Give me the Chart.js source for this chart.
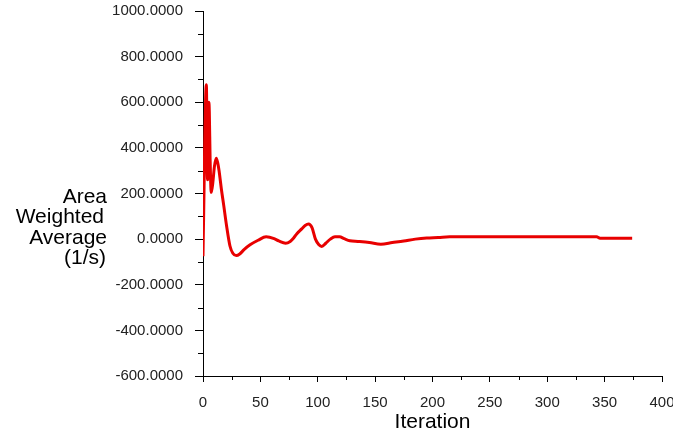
<!DOCTYPE html>
<html>
<head>
<meta charset="utf-8">
<script src="https://cdn.jsdelivr.net/npm/chart.js@4.4.0/dist/chart.umd.min.js"></script>
<style>
  html, body { margin: 0; padding: 0; background: #fff; }
  #wrap { width: 673px; height: 444px; position: relative; }
</style>
</head>
<body>
<div id="wrap"><canvas id="myChart"></canvas></div>
<script>
  // iteration history of the monitored quantity
  const iterations = [
    0, 0.7, 1.5, 2.3, 2.9, 3.3, 3.7, 4.1, 4.6, 5.1,
    5.5, 6.2, 7.2, 8.5, 10, 11.6, 13, 14, 16, 18,
    20.5, 23.5, 26, 29, 32, 36, 41, 48, 55, 62,
    66, 72, 76, 79, 82, 86, 89, 92, 95, 98,
    101, 103.5, 107, 111, 115, 119, 123, 128, 135, 145,
    155, 165, 175, 185, 195, 205, 215, 250, 300, 343,
    346, 360, 374
  ];
  const values = [
    -75, 150, 420, 620, 677, 560, 300, 260, 450, 600,
    560, 350, 205, 245, 320, 355, 330, 300, 220, 150,
    60, -30, -62, -72, -65, -45, -25, -5, 10, 2,
    -8, -18, -10, 5, 25, 45, 60, 66, 50, 0,
    -25, -32, -18, 0, 10, 10, 2, -7, -10, -15,
    -22, -15, -8, 0, 5, 7, 10, 10, 10, 10,
    4, 4, 4
  ];

  const yTitle = ['Area', 'Weighted', 'Average', '(1/s)'];
  const yTitleRight = [107, 104, 107, 106];
  const xTitle = 'Iteration';

  const fontFamily = "'Liberation Sans', Arial, Helvetica, sans-serif";

  // minor ticks, the horizontal y title and the short axis overrun
  const extras = {
    id: 'extras',
    afterDraw(chart) {
      const ctx = chart.ctx;
      const xs = chart.scales.x;
      const ys = chart.scales.y;
      const area = chart.chartArea;
      ctx.save();
      ctx.strokeStyle = '#000';
      ctx.lineWidth = 1;
      ctx.beginPath();
      for (let v = -500; v < 1000; v += 200) {
        const py = Math.round(ys.getPixelForValue(v)) + 0.5;
        ctx.moveTo(area.left - 5, py);
        ctx.lineTo(area.left, py);
      }
      for (let v = 25; v < 400; v += 50) {
        const px = Math.round(xs.getPixelForValue(v)) + 0.5;
        ctx.moveTo(px, area.bottom);
        ctx.lineTo(px, area.bottom + 4);
      }
      const lx = Math.round(area.left) + 0.5;
      ctx.moveTo(lx, area.bottom);
      ctx.lineTo(lx, area.bottom + 6);
      ctx.stroke();

      ctx.fillStyle = '#000';
      ctx.font = '21px ' + fontFamily;
      ctx.textAlign = 'right';
      ctx.textBaseline = 'middle';
      yTitle.forEach((t, i) => ctx.fillText(t, yTitleRight[i], 197 + i * 20.5));
      ctx.restore();
    }
  };

  const data = {
    datasets: [{
      label: 'Area Weighted Average',
      data: iterations.map((x, i) => ({ x: x, y: values[i] })),
      borderColor: 'rgb(232, 0, 0)',
      backgroundColor: 'rgb(232, 0, 0)',
      borderWidth: 3,
      pointRadius: 0,
      cubicInterpolationMode: 'monotone'
    }]
  };

  const config = {
    type: 'line',
    data: data,
    options: {
      responsive: true,
      maintainAspectRatio: false,
      animation: false,
      layout: { padding: { left: 0, right: 11, top: 11, bottom: 0 } },
      plugins: { legend: { display: false }, tooltip: { enabled: false } },
      scales: {
        x: {
          type: 'linear',
          min: 0,
          max: 400,
          afterFit(scale) { scale.height = 68; scale.paddingRight = 0; scale.paddingLeft = 0; },
          border: { display: true, color: '#000', width: 1 },
          grid: { display: true, drawOnChartArea: false, drawTicks: true, tickLength: 6, color: '#000' },
          ticks: {
            stepSize: 50,
            autoSkip: false,
            maxRotation: 0,
            padding: 12,
            color: '#222',
            font: { family: fontFamily, size: 15 },
            callback: v => String(v)
          },
          title: {
            display: true,
            text: xTitle,
            color: '#000',
            font: { family: fontFamily, size: 21 },
            padding: { top: 0, bottom: 9 }
          }
        },
        y: {
          min: -600,
          max: 1000,
          afterFit(scale) { scale.width = 203; scale.paddingTop = 0; scale.paddingBottom = 0; },
          border: { display: true, color: '#000', width: 1 },
          grid: { display: true, drawOnChartArea: false, drawTicks: true, tickLength: 8, color: '#000' },
          ticks: {
            stepSize: 200,
            padding: 12,
            color: '#222',
            font: { family: fontFamily, size: 15 },
            callback: v => v.toFixed(4)
          }
        }
      }
    },
    plugins: [extras]
  };

  const myChart = new Chart(
    document.getElementById('myChart'),
    config
  );
</script>
</body>
</html>
